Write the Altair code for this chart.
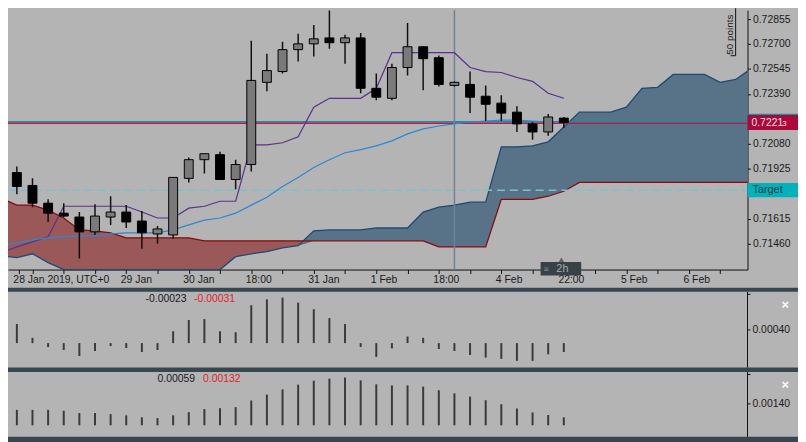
import altair as alt
import pandas as pd

# ---------------- data ----------------
candle_idx = list(range(36))
open_ = [0.71902, 0.71822, 0.71712, 0.71650, 0.71626, 0.71534, 0.71626, 0.71657, 0.71601, 0.71521,
         0.71515, 0.71866, 0.71982, 0.72013, 0.71859, 0.71952, 0.72462, 0.72529, 0.72665, 0.72701,
         0.72738, 0.72708, 0.72738, 0.72425, 0.72363, 0.72554, 0.72683, 0.72615, 0.72443, 0.72449,
         0.72376, 0.72333, 0.72277, 0.72204, 0.72154, 0.72240]
high = [0.71939, 0.71866, 0.71736, 0.71712, 0.71657, 0.71706, 0.71755, 0.71700, 0.71663, 0.71571,
        0.71872, 0.71995, 0.72019, 0.72031, 0.71982, 0.72720, 0.72640, 0.72714, 0.72763, 0.72818,
        0.72941, 0.72757, 0.72769, 0.72517, 0.72578, 0.72830, 0.72683, 0.72628, 0.72468, 0.72529,
        0.72443, 0.72382, 0.72314, 0.72216, 0.72265, 0.72247]
low = [0.71767, 0.71687, 0.71595, 0.71626, 0.71368, 0.71515, 0.71577, 0.71558, 0.71429, 0.71460,
       0.71491, 0.71841, 0.71896, 0.71859, 0.71798, 0.71909, 0.72406, 0.72517, 0.72591, 0.72622,
       0.72671, 0.72578, 0.72394, 0.72351, 0.72351, 0.72505, 0.72413, 0.72437, 0.72437, 0.72271,
       0.72222, 0.72222, 0.72154, 0.72105, 0.72130, 0.72179]
close = [0.71816, 0.71712, 0.71650, 0.71632, 0.71534, 0.71632, 0.71657, 0.71595, 0.71528, 0.71552,
         0.71872, 0.71982, 0.72019, 0.71859, 0.71952, 0.72474, 0.72535, 0.72665, 0.72701, 0.72732,
         0.72708, 0.72738, 0.72425, 0.72370, 0.72554, 0.72683, 0.72609, 0.72449, 0.72462, 0.72370,
         0.72326, 0.72271, 0.72204, 0.72154, 0.72247, 0.72213]

line_idx = list(range(-1, 36))
tenkan = [0.71405, 0.71441, 0.71472, 0.71503, 0.71693, 0.71693, 0.71693, 0.71693, 0.71693, 0.71657,
          0.71620, 0.71620, 0.71681, 0.71693, 0.71724, 0.71724, 0.72074, 0.72074, 0.72087, 0.72124,
          0.72308, 0.72363, 0.72363, 0.72363, 0.72425, 0.72646, 0.72646, 0.72646, 0.72646, 0.72646,
          0.72554, 0.72529, 0.72523, 0.72492, 0.72468, 0.72394, 0.72363]
kijun = [0.71448, 0.71466, 0.71484, 0.71497, 0.71503, 0.71509, 0.71509, 0.71521, 0.71528, 0.71528,
         0.71528, 0.71546, 0.71577, 0.71607, 0.71620, 0.71650, 0.71700, 0.71749, 0.71816, 0.71872,
         0.71933, 0.71982, 0.72025, 0.72044, 0.72068, 0.72099, 0.72142, 0.72173, 0.72191, 0.72204,
         0.72216, 0.72222, 0.72228, 0.72228, 0.72222, 0.72216, 0.72216]

cloud_idx = list(range(-1, 48))
span_a = [0.71386, 0.71374, 0.71398, 0.71343, 0.71288, 0.71263, 0.71245, 0.71239, 0.71239, 0.71239,
          0.71239, 0.71239, 0.71239, 0.71251, 0.71300, 0.71380, 0.71398, 0.71411, 0.71435, 0.71448,
          0.71540, 0.71546, 0.71546, 0.71546, 0.71558, 0.71558, 0.71558, 0.71657, 0.71687, 0.71700,
          0.71718, 0.71718, 0.72062, 0.72062, 0.72068, 0.72093, 0.72185, 0.72277, 0.72277, 0.72277,
          0.72308, 0.72425, 0.72431, 0.72511, 0.72511, 0.72511, 0.72462, 0.72480, 0.72548]
span_b = [0.71743, 0.71700, 0.71700, 0.71669, 0.71620, 0.71546, 0.71540, 0.71528, 0.71497, 0.71497,
          0.71497, 0.71497, 0.71497, 0.71478, 0.71478, 0.71478, 0.71478, 0.71478, 0.71478, 0.71478,
          0.71478, 0.71478, 0.71478, 0.71478, 0.71478, 0.71478, 0.71478, 0.71478, 0.71441, 0.71441,
          0.71441, 0.71441, 0.71736, 0.71736, 0.71736, 0.71755, 0.71786, 0.71841, 0.71841, 0.71841,
          0.71841, 0.71841, 0.71841, 0.71841, 0.71841, 0.71841, 0.71841, 0.71841, 0.71841]

osc1 = [0.00058, 0.00016, -0.00012, -0.00021, -0.00039, -0.00024, -0.00009, -0.00015, -0.00027, -0.00021,
        0.00036, 0.00070, 0.00073, 0.00036, 0.00033, 0.00115, 0.00133, 0.00138, 0.00123, 0.00103,
        0.00076, 0.00058, -0.00012, -0.00042, -0.00016, 0.00020, 0.00016, -0.00018, -0.00024, -0.00036,
        -0.00044, -0.00048, -0.00054, -0.00054, -0.00034, -0.00027]
osc2 = [0.00101, 0.00101, 0.00101, 0.00095, 0.00080, 0.00080, 0.00073, 0.00065, 0.00052, 0.00047,
        0.00065, 0.00086, 0.00106, 0.00112, 0.00119, 0.00162, 0.00201, 0.00235, 0.00266, 0.00292,
        0.00305, 0.00313, 0.00294, 0.00268, 0.00261, 0.00261, 0.00253, 0.00229, 0.00209, 0.00188,
        0.00164, 0.00138, 0.00110, 0.00084, 0.00067, 0.00052]

price_ticks = [0.71460, 0.71615, 0.71925, 0.72080, 0.72390, 0.72545, 0.72700, 0.72855]
x_tick_values = [0.125] + list(range(1, 47, 2))
x_tick_labels = {0.125: "28 Jan 2019, UTC+0", 7: "29 Jan", 11: "30 Jan", 15: "18:00", 19: "31 Jan",
                 23: "1 Feb", 27: "18:00", 31: "4 Feb", 35: "22:00", 39: "5 Feb", 43: "6 Feb"}
teal_level = 0.72218
red_level = 0.72208
target_level = 0.71792
cross_idx = 28
osc1_tick = 0.00040
osc2_tick = 0.00140

# ---------------- layout ----------------
W, H = 747, 434
MAIN_H = 262
FONT = "Liberation Sans"
BG = "#b4b4b4"
SEP = "#37474f"

xscale = alt.Scale(domain=[-0.25, 46.4375], nice=False, zero=False)
label_expr = " : ".join(f"datum.value == {k} ? '{v}'" for k, v in x_tick_labels.items()) + " : ''"
xaxis = alt.Axis(values=x_tick_values, labelExpr=label_expr, orient="bottom", offset=-(H - MAIN_H),
                 title=None, grid=False, domainColor="#111", tickColor="#111", tickSize=4,
                 labelAlign="left", labelOffset=-6, labelPadding=1, labelFont=FONT, labelFontSize=10.5,
                 labelColor="#1a1a1a", labelOverlap=False, labelFlush=False, zindex=0)

pscale = alt.Scale(domain=[0.71300, 0.72910], range=[MAIN_H, 0], clamp=True, zero=False, nice=False)
paxis = alt.Axis(orient="right", values=price_ticks, format=".5f", title=None, grid=False,
                 domainColor="#111", tickColor="#111", tickSize=3, labelPadding=2, labelFont=FONT,
                 labelFontSize=10.5, labelColor="#1a1a1a", labelOverlap=False, zindex=0)

s1scale = alt.Scale(domain=[-0.000743, 0.001558], range=[361, 284.5], zero=False, nice=False)
s2scale = alt.Scale(domain=[-0.000758, 0.003487], range=[431, 365.5], zero=False, nice=False)


def X(field="i"):
    return alt.X(f"{field}:Q", scale=xscale, axis=xaxis)


def PY(field):
    return alt.Y(f"{field}:Q", scale=pscale, axis=paxis)


candles = pd.DataFrame({"i": candle_idx, "open": open_, "high": high, "low": low, "close": close})
candles["dir"] = ["up" if c >= o else "down" for o, c in zip(open_, close)]
lines = pd.DataFrame({"i": line_idx, "tenkan": tenkan, "kijun": kijun})
cloud = pd.DataFrame({"i": cloud_idx, "a": span_a, "b": span_b})
cloud["low_edge"] = [min(a, b) for a, b in zip(span_a, span_b)]
osc = pd.DataFrame({"i": candle_idx, "v1": osc1, "v2": osc2, "zero": [0.0] * len(candle_idx)})
levels = pd.DataFrame({"teal": [teal_level], "red": [red_level], "target": [target_level]})
cross = pd.DataFrame({"i": [cross_idx]})

# ---------------- main panel ----------------
base_cloud = alt.Chart(cloud)
red_area = base_cloud.mark_area(color="#9b5858", clip=True).encode(x=X(), y=PY("b"), y2="low_edge")
blue_area = base_cloud.mark_area(color="#587287", clip=True).encode(x=X(), y=PY("a"), y2="low_edge")
a_line = base_cloud.mark_line(color="#1b4b75", strokeWidth=1.3, clip=True).encode(x=X(), y=PY("a"))
b_line = base_cloud.mark_line(color="#860c0c", strokeWidth=1.3, clip=True).encode(x=X(), y=PY("b"))

base_lv = alt.Chart(levels)
target_rule = base_lv.mark_rule(color="#78c3cb", strokeWidth=1.5, strokeDash=[8, 5]).encode(
    y=PY("target"), x=alt.value(0), x2=alt.value(W))
teal_rule = base_lv.mark_rule(color="#0a97a5", strokeWidth=1.5).encode(
    y=PY("teal"), x=alt.value(0), x2=alt.value(W))
red_rule = base_lv.mark_rule(color="#c0174f", strokeWidth=1.5).encode(
    y=PY("red"), x=alt.value(0), x2=alt.value(W))

vline = alt.Chart(cross).mark_rule(color="#6e8293", strokeWidth=1.5).encode(
    x=X(), y=alt.value(0), y2=alt.value(MAIN_H))

base_lines = alt.Chart(lines)
tenkan_line = base_lines.mark_line(color="#5d2f8e", strokeWidth=1.2, clip=True).encode(x=X(), y=PY("tenkan"))
kijun_line = base_lines.mark_line(color="#2a88d6", strokeWidth=1.2, clip=True).encode(x=X(), y=PY("kijun"))

base_c = alt.Chart(candles)
wicks = base_c.mark_rule(color="#111", strokeWidth=1.5, clip=True).encode(x=X(), y=PY("low"), y2="high")
bodies = base_c.mark_bar(size=9, stroke="#000", strokeWidth=1, clip=True).encode(
    x=X(), y=PY("open"), y2="close",
    fill=alt.Fill("dir:N", scale=alt.Scale(domain=["up", "down"], range=["#7a7a7a", "#000000"]), legend=None))

main = alt.layer(red_area, blue_area, a_line, b_line, target_rule, teal_rule, red_rule, vline,
                 tenkan_line, kijun_line, wicks, bodies)

# ---------------- oscillator panels ----------------
base_o = alt.Chart(osc)
bars1 = base_o.mark_rule(color="#3a3a3a", strokeWidth=2).encode(
    x=X(), y=alt.Y("v1:Q", scale=s1scale, axis=None), y2="zero")
bars2 = base_o.mark_rule(color="#3a3a3a", strokeWidth=2).encode(
    x=X(), y=alt.Y("v2:Q", scale=s2scale, axis=None), y2="zero")

t1 = pd.DataFrame({"v": [osc1_tick], "lab": [f"{osc1_tick:.5f}"]})
t2 = pd.DataFrame({"v": [osc2_tick], "lab": [f"{osc2_tick:.5f}"]})
tick1 = alt.Chart(t1).mark_rule(color="#111").encode(
    y=alt.Y("v:Q", scale=s1scale, axis=None), x=alt.value(W), x2=alt.value(W + 3))
lab1 = alt.Chart(t1).mark_text(align="left", baseline="middle", font=FONT, fontSize=10.5, color="#1a1a1a").encode(
    y=alt.Y("v:Q", scale=s1scale, axis=None), x=alt.value(W + 5), text="lab:N")
tick2 = alt.Chart(t2).mark_rule(color="#111").encode(
    y=alt.Y("v:Q", scale=s2scale, axis=None), x=alt.value(W), x2=alt.value(W + 3))
lab2 = alt.Chart(t2).mark_text(align="left", baseline="middle", font=FONT, fontSize=10.5, color="#1a1a1a").encode(
    y=alt.Y("v:Q", scale=s2scale, axis=None), x=alt.value(W + 5), text="lab:N")

sub1 = alt.layer(bars1, tick1, lab1)
sub2 = alt.layer(bars2, tick2, lab2)

# ---------------- decorations ----------------
one = alt.Chart(pd.DataFrame({"k": [0]}))


def rect(x1, x2, y1, y2, color):
    return one.mark_rect(color=color).encode(x=alt.value(x1), x2=alt.value(x2), y=alt.value(y1), y2=alt.value(y2))


def rule(x1, x2, y1, y2, color="#111", w=1):
    return one.mark_rule(color=color, strokeWidth=w).encode(
        x=alt.value(x1), x2=alt.value(x2), y=alt.value(y1), y2=alt.value(y2))


def text(s, x, y, color="#1a1a1a", size=10.5, align="left", weight="normal", angle=0):
    return one.mark_text(text=s, align=align, baseline="middle", font=FONT, fontSize=size, color=color,
                         fontWeight=weight, angle=angle).encode(x=alt.value(x), y=alt.value(y))


deco = alt.layer(
    rect(-10, 800, 280.3, 284.5, SEP),
    rect(-10, 800, 361, 365.5, SEP),
    rect(-10, 800, 431, 440, SEP),
    # sub-panel axis lines and top ticks
    rule(W, W, 284.5, 361), rule(W, W + 3, 287, 287),
    rule(W, W, 365.5, 431), rule(W, W + 3, 368, 368),
    # price tags
    rect(W, 798, 104.5, 119, "#0a97a5"),
    rect(W, 798, 106, 121, "#ad0639"),
    text("0.7221", W + 4, 113.8, color="#f4e1e6", size=10.5),
    text("3", W + 35, 115, color="#f4e1e6", size=8),
    rect(W, 798, 174.5, 189, "#00b2ba"),
    text("Target", W + 5, 182, color="#123c42", size=11),
    # 2h box
    rect(538, 579, 254.5, 268, "#384246"),
    one.mark_point(shape="triangle-up", filled=True, size=28, color="#384246").encode(
        x=alt.value(559), y=alt.value(252)),
    text("2h", 560, 261.5, color="#a3abae", size=11, align="center"),
    text("\u2261", 541, 261.5, color="#7d878b", size=9),
    # 50 points ruler
    rule(735, 735, -2, 46), rule(730, 735, 46, 46),
    text("50 points", 729, 45, color="#1a1a1a", size=10, angle=270),
    # oscillator value labels
    text("-0.00023", 139, 292, color="#1a1a1a"),
    text("-0.00031", 188, 292, color="#e0262a"),
    text("0.00059", 151, 373, color="#1a1a1a"),
    text("0.00132", 197, 373, color="#e0262a"),
    text("\u00d7", 785, 298, color="#ffffff", size=13, align="center", weight="bold"),
    text("\u00d7", 785, 379, color="#ffffff", size=13, align="center", weight="bold"),
)

chart = alt.layer(main, sub1, sub2, deco).resolve_scale(y="independent").properties(
    width=W, height=H,
    autosize=alt.AutoSizeParams(type="none"),
    padding={"left": 0, "top": 0, "right": 51, "bottom": 0},
).configure(background=BG).configure_view(stroke=None)

chart.save("out.html", embed_options={"renderer": "svg", "actions": False})
